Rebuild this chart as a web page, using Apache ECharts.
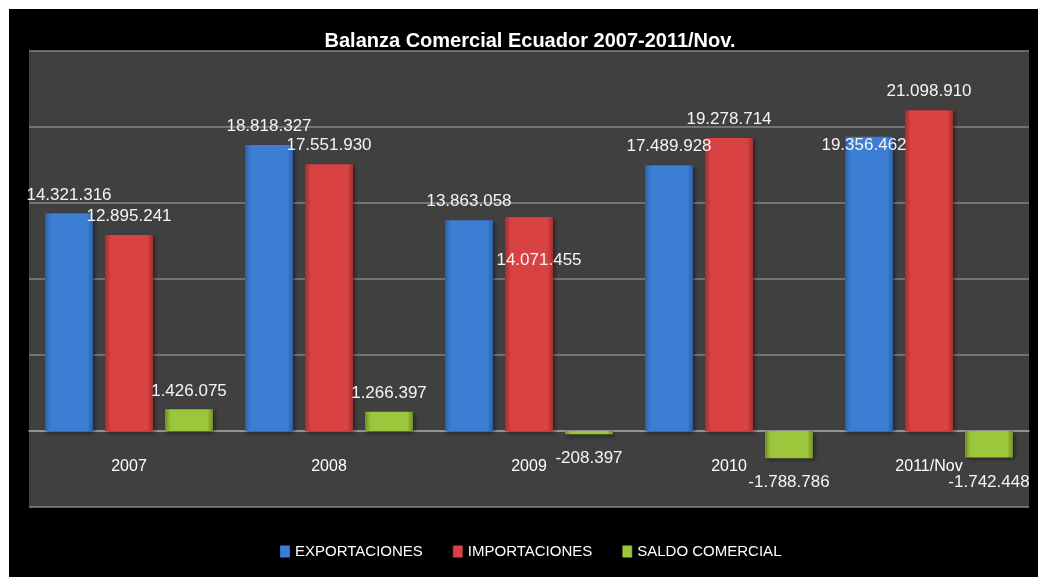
<!DOCTYPE html>
<html>
<head>
<meta charset="utf-8">
<script src="https://cdn.jsdelivr.net/npm/echarts@6/dist/echarts.min.js"></script>
<style>
  html, body { margin: 0; padding: 0; background: #fff; }
  #chart { position: absolute; left: 9px; top: 9px; width: 1029px; height: 568px; }
</style>
</head>
<body>
<div id="chart"></div>
<script>
const categories = ['2007', '2008', '2009', '2010', '2011/Nov']
const exportaciones = [14321316, 18818327, 13863058, 17489928, 19356462]
const importaciones = [12895241, 17551930, 14071455, 19278714, 21098910]
const saldo = [1426075, 1266397, -208397, -1788786, -1742448]
const seriesNames = ['EXPORTACIONES', 'IMPORTACIONES', 'SALDO COMERCIAL']

// label nudges to mimic the original layout (series index -> point index -> offset)
const nudge = {
  1: { 2: [10, 62] },
  0: { 4: [-5, 27] }
}

const fmt = v => {
  const s = Math.abs(v).toString().replace(/\B(?=(\d{3})+(?!\d))/g, '.')
  return (v < 0 ? '-' : '') + s
}

const grad = (edge, mid) => new echarts.graphic.LinearGradient(0, 0, 1, 0, [
  { offset: 0, color: edge },
  { offset: 0.12, color: mid },
  { offset: 0.88, color: mid },
  { offset: 1, color: edge }
])

const colors = [
  ['#2b5fa6', '#3c7ed4'],
  ['#a52f2f', '#d84242'],
  ['#6e8f27', '#9cc63c']
]

function buildData(values, si) {
  return values.map((v, i) => {
    const item = { value: v, label: {} }
    if (v < 0) {
      item.label.position = 'bottom'
      item.label.distance = 16
    }
    if (nudge[si] && nudge[si][i]) item.label.offset = nudge[si][i]
    return item
  })
}

const valueSets = [exportaciones, importaciones, saldo]

const yMin = -5000000, yMax = 25000000, yStep = 5000000
const gridTop = 42, gridBottom = 70, chartH = 568
// pixel distance from the bottom of the plot up to the zero line
const zeroShift = (chartH - gridTop - gridBottom) * (0 - yMin) / (yMax - yMin)

const chart = echarts.init(document.getElementById('chart'))
chart.setOption({
  backgroundColor: '#000',
  animation: false,
  title: {
    text: 'Balanza Comercial Ecuador 2007-2011/Nov.',
    left: 516,
    textAlign: 'center',
    top: 17,
    textStyle: { color: '#fff', fontFamily: 'Liberation Sans', fontWeight: 'bold', fontSize: 20 }
  },
  legend: {
    data: seriesNames,
    left: 266,
    top: 530,
    icon: 'rect',
    itemWidth: 10,
    itemHeight: 12,
    itemGap: 30,
    textStyle: { color: '#fff', fontFamily: 'Liberation Sans', fontSize: 15 }
  },
  grid: {
    left: 20,
    right: 9,
    top: gridTop,
    bottom: gridBottom,
    show: true,
    backgroundColor: '#404040',
    borderWidth: 0
  },
  xAxis: {
    type: 'category',
    data: categories,
    position: 'bottom',
    offset: -zeroShift,
    axisLine: { onZero: false, lineStyle: { color: '#a0a0a0', width: 1.5 } },
    axisTick: { show: false },
    axisLabel: { color: '#fff', fontFamily: 'Liberation Sans', fontSize: 16, margin: 28 }
  },
  yAxis: {
    type: 'value',
    min: yMin,
    max: yMax,
    interval: yStep,
    axisLine: { show: false },
    axisTick: { show: false },
    axisLabel: { show: false },
    splitLine: { show: true, lineStyle: { color: '#858585', width: 1.5 } }
  },
  series: valueSets.map((vals, si) => ({
    name: seriesNames[si],
    type: 'bar',
    barWidth: 48,
    barGap: '25%',
    data: buildData(vals, si),
    itemStyle: {
      color: grad(colors[si][0], colors[si][1]),
      shadowColor: 'rgba(0,0,0,0.45)',
      shadowBlur: 4,
      shadowOffsetX: 2,
      shadowOffsetY: 2
    },
    label: {
      show: true,
      position: 'top',
      distance: 10,
      color: '#f4f4f4',
      fontFamily: 'Liberation Sans',
      fontSize: 17,
      formatter: p => fmt(p.value)
    }
  }))
})
</script>
</body>
</html>
